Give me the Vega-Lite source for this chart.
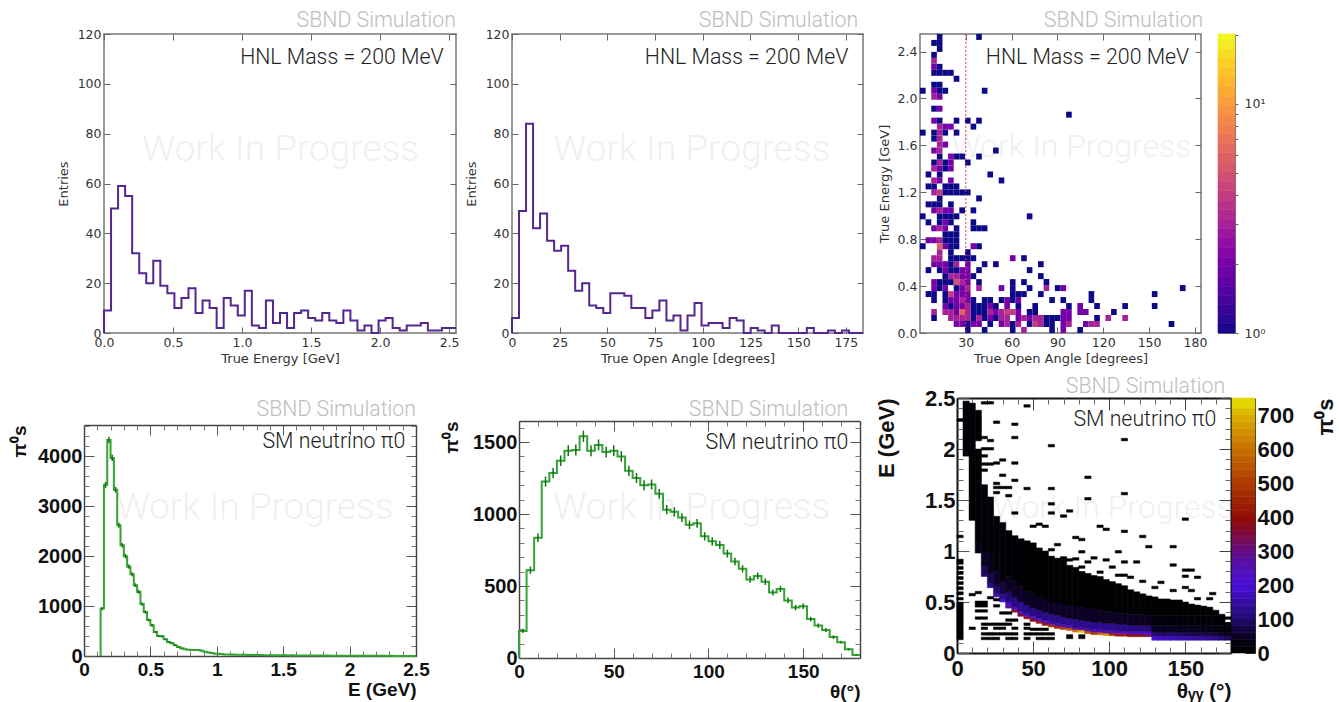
{"$schema":"https://vega.github.io/schema/vega-lite/v6.json","padding":0,"background":"white","spacing":0,"resolve":{"scale":{"color":"independent","stroke":"independent"}},
"config":{"view":{"stroke":null},"axis":{"grid":false,"domain":false,"labelOverlap":false,"labelFlush":false,"tickColor":"#666","tickWidth":1,"labelFont":"DejaVu Sans","labelFontSize":12.5,"labelColor":"#333","titleFont":"DejaVu Sans","titleFontSize":13,"titleFontWeight":"normal","titleColor":"#333"},
"style":{"root":{"labelFont":"Liberation Sans","labelFontWeight":"bold","labelFontSize":19,"labelColor":"#111","titleFont":"Liberation Sans","titleFontWeight":"bold","titleFontSize":19,"titleColor":"#111","tickColor":"#555"}}},
"vconcat":[
{"width":1339,"height":8,"data":{"values":[{}]},"mark":{"type":"point","opacity":0},"encoding":{}},
{"spacing":0,"bounds":"flush","resolve":{"scale":{"color":"independent","stroke":"independent"}},"hconcat":[
{"width":104,"height":340,"data":{"values":[{}]},"mark":{"type":"point","opacity":0},"encoding":{}},
{"width":352,"height":299,"view":{"stroke":"#777","strokeWidth":1.5},"resolve":{"axis":{"x":"independent","y":"independent"}},"layer":[
{"data":{"values":[{"x":0,"y":0},{"x":0,"y":9},{"x":0.051,"y":50},{"x":0.102,"y":59},{"x":0.153,"y":55},{"x":0.204,"y":32},{"x":0.255,"y":24},{"x":0.306,"y":20},{"x":0.357,"y":29},{"x":0.408,"y":19},{"x":0.459,"y":16},{"x":0.51,"y":10},{"x":0.561,"y":14},{"x":0.612,"y":18},{"x":0.663,"y":8},{"x":0.714,"y":13},{"x":0.765,"y":10},{"x":0.816,"y":2},{"x":0.867,"y":14},{"x":0.918,"y":11},{"x":0.969,"y":7},{"x":1.02,"y":17},{"x":1.071,"y":3},{"x":1.122,"y":2},{"x":1.173,"y":13},{"x":1.224,"y":4},{"x":1.275,"y":8},{"x":1.326,"y":2},{"x":1.377,"y":8},{"x":1.428,"y":9},{"x":1.479,"y":6},{"x":1.53,"y":5},{"x":1.581,"y":8},{"x":1.632,"y":5},{"x":1.683,"y":4},{"x":1.734,"y":9},{"x":1.785,"y":5},{"x":1.836,"y":1},{"x":1.887,"y":3},{"x":1.938,"y":0},{"x":1.989,"y":5},{"x":2.04,"y":6},{"x":2.091,"y":2},{"x":2.142,"y":1},{"x":2.193,"y":3},{"x":2.244,"y":3},{"x":2.295,"y":4},{"x":2.346,"y":1},{"x":2.397,"y":1},{"x":2.448,"y":2},{"x":2.499,"y":2},{"x":2.55,"y":2}]},
"mark":{"type":"line","interpolate":"step-after","color":"#54278f","strokeWidth":2},
"encoding":{"x":{"field":"x","type":"quantitative","scale":{"domain":[0,2.55],"nice":false,"zero":false},"axis":{"orient":"bottom","values":[0,0.5,1,1.5,2,2.5],"format":".1f","tickSize":-6,"labelPadding":9,"title":"True Energy [GeV]","titlePadding":4}},"y":{"field":"y","type":"quantitative","scale":{"domain":[0,120],"nice":false,"zero":false},"axis":{"orient":"left","values":[0,20,40,60,80,100,120],"tickSize":-6,"labelPadding":9,"title":"Entries","titlePadding":7}}}},
{"data":{"values":[{"x":2.46,"y":110.3,"t":"HNL Mass = 200 MeV"}]},"mark":{"type":"text","font":"Roboto","fontWeight":300,"fontSize":21.3,"align":"right","baseline":"middle","color":"#222"},
"encoding":{"x":{"field":"x","type":"quantitative","title":null,"axis":{"orient":"top","values":[0,0.5,1,1.5,2,2.5],"labels":false,"tickSize":-6}},"y":{"field":"y","type":"quantitative","title":null,"axis":{"orient":"right","values":[0,20,40,60,80,100,120],"labels":false,"tickSize":-6}},"text":{"field":"t"}}},
{"data":{"values":[{"x":2.55,"y":125.4,"t":"SBND Simulation"}]},"mark":{"type":"text","font":"Roboto","fontWeight":300,"fontSize":21.3,"align":"right","baseline":"middle","color":"#bdbdbd"},
"encoding":{"x":{"field":"x","type":"quantitative","axis":null},"y":{"field":"y","type":"quantitative","axis":null},"text":{"field":"t"}}},
{"data":{"values":[{"x":1.279,"y":73.3,"t":"Work In Progress"}]},"mark":{"type":"text","font":"Roboto","fontWeight":300,"fontSize":37,"align":"center","baseline":"middle","color":"#000","opacity":0.06},
"encoding":{"x":{"field":"x","type":"quantitative","axis":null},"y":{"field":"y","type":"quantitative","axis":null},"text":{"field":"t"}}}
]},
{"width":56,"height":299,"data":{"values":[{}]},"mark":{"type":"point","opacity":0},"encoding":{}},
{"width":351,"height":299,"view":{"stroke":"#777","strokeWidth":1.5},"resolve":{"axis":{"x":"independent","y":"independent"}},"layer":[
{"data":{"values":[{"x":0,"y":0},{"x":0,"y":6},{"x":3.68,"y":49},{"x":7.36,"y":84},{"x":11.04,"y":42},{"x":14.72,"y":48},{"x":18.4,"y":37},{"x":22.08,"y":33},{"x":25.76,"y":35},{"x":29.44,"y":25},{"x":33.12,"y":17},{"x":36.8,"y":20},{"x":40.48,"y":11},{"x":44.16,"y":10},{"x":47.84,"y":8},{"x":51.52,"y":16},{"x":55.2,"y":16},{"x":58.88,"y":15},{"x":62.56,"y":10},{"x":66.24,"y":10},{"x":69.92,"y":6},{"x":73.6,"y":9},{"x":77.28,"y":13},{"x":80.96,"y":5},{"x":84.64,"y":7},{"x":88.32,"y":1},{"x":92,"y":7},{"x":95.68,"y":12},{"x":99.36,"y":3},{"x":103.04,"y":4},{"x":106.72,"y":4},{"x":110.4,"y":2},{"x":114.08,"y":6},{"x":117.76,"y":5},{"x":121.44,"y":0},{"x":125.12,"y":2},{"x":128.8,"y":1},{"x":132.48,"y":0},{"x":136.16,"y":3},{"x":139.84,"y":0},{"x":143.52,"y":0},{"x":147.2,"y":0},{"x":150.88,"y":0},{"x":154.56,"y":2},{"x":158.24,"y":0},{"x":161.92,"y":0},{"x":165.6,"y":1},{"x":169.28,"y":0},{"x":172.96,"y":1},{"x":176.64,"y":0},{"x":180.32,"y":0},{"x":184,"y":0}]},
"mark":{"type":"line","interpolate":"step-after","color":"#54278f","strokeWidth":2},
"encoding":{"x":{"field":"x","type":"quantitative","scale":{"domain":[0,184],"nice":false,"zero":false},"axis":{"orient":"bottom","values":[0,25,50,75,100,125,150,175],"tickSize":-6,"labelPadding":9,"title":"True Open Angle [degrees]","titlePadding":4}},"y":{"field":"y","type":"quantitative","scale":{"domain":[0,120],"nice":false,"zero":false},"axis":{"orient":"left","values":[0,20,40,60,80,100,120],"tickSize":-6,"labelPadding":9,"title":"Entries","titlePadding":7}}}},
{"data":{"values":[{"x":176.3,"y":110.3,"t":"HNL Mass = 200 MeV"}]},"mark":{"type":"text","font":"Roboto","fontWeight":300,"fontSize":21.3,"align":"right","baseline":"middle","color":"#222"},
"encoding":{"x":{"field":"x","type":"quantitative","title":null,"axis":{"orient":"top","values":[0,25,50,75,100,125,150,175],"labels":false,"tickSize":-6}},"y":{"field":"y","type":"quantitative","title":null,"axis":{"orient":"right","values":[0,20,40,60,80,100,120],"labels":false,"tickSize":-6}},"text":{"field":"t"}}},
{"data":{"values":[{"x":181.5,"y":125.4,"t":"SBND Simulation"}]},"mark":{"type":"text","font":"Roboto","fontWeight":300,"fontSize":21.3,"align":"right","baseline":"middle","color":"#bdbdbd"},
"encoding":{"x":{"field":"x","type":"quantitative","axis":null},"y":{"field":"y","type":"quantitative","axis":null},"text":{"field":"t"}}},
{"data":{"values":[{"x":94.2,"y":73.3,"t":"Work In Progress"}]},"mark":{"type":"text","font":"Roboto","fontWeight":300,"fontSize":37,"align":"center","baseline":"middle","color":"#000","opacity":0.06},
"encoding":{"x":{"field":"x","type":"quantitative","axis":null},"y":{"field":"y","type":"quantitative","axis":null},"text":{"field":"t"}}}
]},
{"width":57,"height":299,"data":{"values":[{}]},"mark":{"type":"point","opacity":0},"encoding":{}},
{"width":281,"height":299,"view":{"stroke":"#777","strokeWidth":1.5},"resolve":{"axis":{"x":"independent","y":"independent"}},"layer":[
{"data":{"values":[
{"x":31.28,"y":0.026,"c":1},{"x":42.32,"y":0.026,"c":1},{"x":60.72,"y":0.026,"c":1},{"x":68.08,"y":0.026,"c":3},{"x":86.48,"y":0.026,"c":1},{"x":93.84,"y":0.026,"c":2},{"x":104.88,"y":0.026,"c":1},
{"x":23.92,"y":0.077,"c":2},{"x":27.6,"y":0.077,"c":2},{"x":31.28,"y":0.077,"c":1},{"x":34.96,"y":0.077,"c":2},{"x":38.64,"y":0.077,"c":2},{"x":46,"y":0.077,"c":1},{"x":53.36,"y":0.077,"c":2},{"x":57.04,"y":0.077,"c":3},{"x":60.72,"y":0.077,"c":1},{"x":64.4,"y":0.077,"c":3},{"x":71.76,"y":0.077,"c":1},{"x":75.44,"y":0.077,"c":4},{"x":79.12,"y":0.077,"c":3},{"x":82.8,"y":0.077,"c":1},{"x":86.48,"y":0.077,"c":1},{"x":93.84,"y":0.077,"c":2},{"x":97.52,"y":0.077,"c":3},{"x":108.56,"y":0.077,"c":2},{"x":112.24,"y":0.077,"c":3},{"x":115.92,"y":0.077,"c":3},{"x":164.68,"y":0.077,"c":1},
{"x":9.2,"y":0.128,"c":1},{"x":20.24,"y":0.128,"c":3},{"x":23.92,"y":0.128,"c":3},{"x":27.6,"y":0.128,"c":3},{"x":31.28,"y":0.128,"c":3},{"x":34.96,"y":0.128,"c":1},{"x":38.64,"y":0.128,"c":3},{"x":42.32,"y":0.128,"c":1},{"x":46,"y":0.128,"c":2},{"x":49.68,"y":0.128,"c":1},{"x":53.36,"y":0.128,"c":3},{"x":57.04,"y":0.128,"c":3},{"x":64.4,"y":0.128,"c":2},{"x":68.08,"y":0.128,"c":3},{"x":71.76,"y":0.128,"c":2},{"x":75.44,"y":0.128,"c":3},{"x":79.12,"y":0.128,"c":3},{"x":82.8,"y":0.128,"c":1},{"x":86.48,"y":0.128,"c":1},{"x":90.16,"y":0.128,"c":1},{"x":93.84,"y":0.128,"c":2},{"x":97.52,"y":0.128,"c":2},{"x":115.92,"y":0.128,"c":1},{"x":123.28,"y":0.128,"c":3},{"x":134.32,"y":0.128,"c":3},
{"x":9.2,"y":0.179,"c":3},{"x":16.56,"y":0.179,"c":3},{"x":20.24,"y":0.179,"c":3},{"x":23.92,"y":0.179,"c":2},{"x":27.6,"y":0.179,"c":6},{"x":31.28,"y":0.179,"c":3},{"x":34.96,"y":0.179,"c":1},{"x":38.64,"y":0.179,"c":1},{"x":42.32,"y":0.179,"c":1},{"x":46,"y":0.179,"c":3},{"x":49.68,"y":0.179,"c":2},{"x":53.36,"y":0.179,"c":3},{"x":57.04,"y":0.179,"c":4},{"x":60.72,"y":0.179,"c":4},{"x":64.4,"y":0.179,"c":2},{"x":71.76,"y":0.179,"c":1},{"x":75.44,"y":0.179,"c":1},{"x":93.84,"y":0.179,"c":2},{"x":97.52,"y":0.179,"c":2},{"x":104.88,"y":0.179,"c":2},{"x":108.56,"y":0.179,"c":2},{"x":126.96,"y":0.179,"c":1},
{"x":16.56,"y":0.23,"c":2},{"x":20.24,"y":0.23,"c":1},{"x":23.92,"y":0.23,"c":2},{"x":27.6,"y":0.23,"c":2},{"x":31.28,"y":0.23,"c":3},{"x":34.96,"y":0.23,"c":1},{"x":38.64,"y":0.23,"c":1},{"x":42.32,"y":0.23,"c":1},{"x":46,"y":0.23,"c":2},{"x":49.68,"y":0.23,"c":1},{"x":57.04,"y":0.23,"c":2},{"x":64.4,"y":0.23,"c":1},{"x":75.44,"y":0.23,"c":1},{"x":97.52,"y":0.23,"c":1},{"x":104.88,"y":0.23,"c":2},{"x":115.92,"y":0.23,"c":1},{"x":134.32,"y":0.23,"c":1},{"x":153.64,"y":0.23,"c":1},
{"x":9.2,"y":0.281,"c":1},{"x":16.56,"y":0.281,"c":1},{"x":20.24,"y":0.281,"c":2},{"x":23.92,"y":0.281,"c":2},{"x":27.6,"y":0.281,"c":3},{"x":31.28,"y":0.281,"c":2},{"x":34.96,"y":0.281,"c":1},{"x":42.32,"y":0.281,"c":1},{"x":46,"y":0.281,"c":1},{"x":53.36,"y":0.281,"c":1},{"x":57.04,"y":0.281,"c":2},{"x":60.72,"y":0.281,"c":1},{"x":64.4,"y":0.281,"c":2},{"x":86.48,"y":0.281,"c":1},{"x":93.84,"y":0.281,"c":1},{"x":112.24,"y":0.281,"c":1},
{"x":5.52,"y":0.332,"c":1},{"x":9.2,"y":0.332,"c":1},{"x":16.56,"y":0.332,"c":1},{"x":20.24,"y":0.332,"c":4},{"x":23.92,"y":0.332,"c":2},{"x":27.6,"y":0.332,"c":2},{"x":31.28,"y":0.332,"c":2},{"x":60.72,"y":0.332,"c":1},{"x":64.4,"y":0.332,"c":1},{"x":68.08,"y":0.332,"c":1},{"x":79.12,"y":0.332,"c":1},{"x":112.24,"y":0.332,"c":1},{"x":153.64,"y":0.332,"c":1},
{"x":9.2,"y":0.383,"c":2},{"x":12.88,"y":0.383,"c":1},{"x":16.56,"y":0.383,"c":2},{"x":23.92,"y":0.383,"c":1},{"x":27.6,"y":0.383,"c":2},{"x":31.28,"y":0.383,"c":3},{"x":38.64,"y":0.383,"c":3},{"x":53.36,"y":0.383,"c":2},{"x":60.72,"y":0.383,"c":1},{"x":71.76,"y":0.383,"c":1},{"x":82.8,"y":0.383,"c":3},{"x":90.16,"y":0.383,"c":1},{"x":93.84,"y":0.383,"c":2},{"x":172.04,"y":0.383,"c":1},
{"x":9.2,"y":0.434,"c":2},{"x":12.88,"y":0.434,"c":1},{"x":16.56,"y":0.434,"c":1},{"x":20.24,"y":0.434,"c":1},{"x":23.92,"y":0.434,"c":5},{"x":27.6,"y":0.434,"c":3},{"x":31.28,"y":0.434,"c":2},{"x":38.64,"y":0.434,"c":1},{"x":60.72,"y":0.434,"c":1},{"x":68.08,"y":0.434,"c":1},{"x":82.8,"y":0.434,"c":1},
{"x":16.56,"y":0.485,"c":1},{"x":20.24,"y":0.485,"c":3},{"x":23.92,"y":0.485,"c":3},{"x":27.6,"y":0.485,"c":2},{"x":31.28,"y":0.485,"c":2},{"x":34.96,"y":0.485,"c":1},{"x":79.12,"y":0.485,"c":1},
{"x":5.52,"y":0.536,"c":1},{"x":12.88,"y":0.536,"c":1},{"x":16.56,"y":0.536,"c":2},{"x":20.24,"y":0.536,"c":1},{"x":23.92,"y":0.536,"c":1},{"x":27.6,"y":0.536,"c":2},{"x":31.28,"y":0.536,"c":2},{"x":38.64,"y":0.536,"c":1},{"x":71.76,"y":0.536,"c":1},
{"x":9.2,"y":0.587,"c":2},{"x":12.88,"y":0.587,"c":2},{"x":16.56,"y":0.587,"c":2},{"x":20.24,"y":0.587,"c":1},{"x":23.92,"y":0.587,"c":3},{"x":31.28,"y":0.587,"c":2},{"x":42.32,"y":0.587,"c":1},{"x":49.68,"y":0.587,"c":1},{"x":79.12,"y":0.587,"c":1},
{"x":9.2,"y":0.638,"c":3},{"x":12.88,"y":0.638,"c":3},{"x":20.24,"y":0.638,"c":1},{"x":23.92,"y":0.638,"c":1},{"x":27.6,"y":0.638,"c":1},{"x":31.28,"y":0.638,"c":1},{"x":34.96,"y":0.638,"c":1},{"x":60.72,"y":0.638,"c":2},{"x":68.08,"y":0.638,"c":1},
{"x":12.88,"y":0.689,"c":3},{"x":20.24,"y":0.689,"c":1},{"x":31.28,"y":0.689,"c":1},
{"x":1.84,"y":0.74,"c":1},{"x":12.88,"y":0.74,"c":6},{"x":16.56,"y":0.74,"c":2},{"x":20.24,"y":0.74,"c":1},{"x":23.92,"y":0.74,"c":1},{"x":34.96,"y":0.74,"c":2},{"x":38.64,"y":0.74,"c":1},
{"x":5.52,"y":0.791,"c":2},{"x":9.2,"y":0.791,"c":2},{"x":12.88,"y":0.791,"c":3},{"x":16.56,"y":0.791,"c":1},{"x":20.24,"y":0.791,"c":1},{"x":23.92,"y":0.791,"c":1},
{"x":16.56,"y":0.842,"c":1},{"x":20.24,"y":0.842,"c":1},{"x":23.92,"y":0.842,"c":1},
{"x":9.2,"y":0.893,"c":2},{"x":12.88,"y":0.893,"c":3},{"x":16.56,"y":0.893,"c":2},{"x":23.92,"y":0.893,"c":1},{"x":34.96,"y":0.893,"c":1},{"x":38.64,"y":0.893,"c":1},{"x":42.32,"y":0.893,"c":1},
{"x":5.52,"y":0.944,"c":1},{"x":12.88,"y":0.944,"c":1},{"x":16.56,"y":0.944,"c":2},{"x":20.24,"y":0.944,"c":1},{"x":34.96,"y":0.944,"c":1},
{"x":1.84,"y":0.995,"c":1},{"x":12.88,"y":0.995,"c":1},{"x":16.56,"y":0.995,"c":1},{"x":20.24,"y":0.995,"c":1},{"x":23.92,"y":0.995,"c":1},{"x":71.76,"y":0.995,"c":1},
{"x":9.2,"y":1.046,"c":2},{"x":12.88,"y":1.046,"c":3},{"x":16.56,"y":1.046,"c":2},{"x":20.24,"y":1.046,"c":2},{"x":27.6,"y":1.046,"c":1},{"x":34.96,"y":1.046,"c":1},
{"x":5.52,"y":1.097,"c":1},{"x":9.2,"y":1.097,"c":1},{"x":12.88,"y":1.097,"c":1},{"x":20.24,"y":1.097,"c":1},
{"x":12.88,"y":1.148,"c":1},{"x":38.64,"y":1.148,"c":1},
{"x":9.2,"y":1.199,"c":3},{"x":12.88,"y":1.199,"c":4},{"x":16.56,"y":1.199,"c":1},{"x":20.24,"y":1.199,"c":1},{"x":23.92,"y":1.199,"c":1},{"x":27.6,"y":1.199,"c":1},{"x":31.28,"y":1.199,"c":1},
{"x":5.52,"y":1.25,"c":1},{"x":9.2,"y":1.25,"c":1},{"x":16.56,"y":1.25,"c":1},{"x":20.24,"y":1.25,"c":1},{"x":23.92,"y":1.25,"c":1},
{"x":9.2,"y":1.301,"c":3},{"x":12.88,"y":1.301,"c":2},{"x":20.24,"y":1.301,"c":2},{"x":53.36,"y":1.301,"c":1},
{"x":5.52,"y":1.352,"c":1},{"x":12.88,"y":1.352,"c":1},{"x":46,"y":1.352,"c":1},
{"x":9.2,"y":1.403,"c":3},{"x":12.88,"y":1.403,"c":2},{"x":16.56,"y":1.403,"c":1},{"x":20.24,"y":1.403,"c":2},
{"x":9.2,"y":1.454,"c":1},{"x":12.88,"y":1.454,"c":3},{"x":16.56,"y":1.454,"c":1},{"x":20.24,"y":1.454,"c":2},{"x":31.28,"y":1.454,"c":1},
{"x":12.88,"y":1.505,"c":1},{"x":20.24,"y":1.505,"c":2},{"x":23.92,"y":1.505,"c":1},{"x":27.6,"y":1.505,"c":1},{"x":38.64,"y":1.505,"c":1},
{"x":9.2,"y":1.556,"c":2},{"x":12.88,"y":1.556,"c":3},{"x":49.68,"y":1.556,"c":1},
{"x":12.88,"y":1.607,"c":3},{"x":16.56,"y":1.607,"c":2},
{"x":9.2,"y":1.658,"c":1},{"x":12.88,"y":1.658,"c":3},
{"x":1.84,"y":1.709,"c":1},{"x":9.2,"y":1.709,"c":1},{"x":12.88,"y":1.709,"c":3},{"x":16.56,"y":1.709,"c":1},{"x":23.92,"y":1.709,"c":1},
{"x":12.88,"y":1.76,"c":3},{"x":16.56,"y":1.76,"c":2},{"x":20.24,"y":1.76,"c":2},{"x":34.96,"y":1.76,"c":1},
{"x":9.2,"y":1.811,"c":2},{"x":12.88,"y":1.811,"c":1},{"x":23.92,"y":1.811,"c":1},{"x":31.28,"y":1.811,"c":1},{"x":38.64,"y":1.811,"c":1},
{"x":97.52,"y":1.862,"c":1},
{"x":9.2,"y":1.913,"c":1},{"x":12.88,"y":1.913,"c":2},
{"x":9.2,"y":2.015,"c":3},{"x":12.88,"y":2.015,"c":2},
{"x":1.84,"y":2.066,"c":1},{"x":9.2,"y":2.066,"c":2},{"x":12.88,"y":2.066,"c":1},{"x":16.56,"y":2.066,"c":1},{"x":42.32,"y":2.066,"c":1},
{"x":9.2,"y":2.117,"c":1},{"x":12.88,"y":2.117,"c":1},
{"x":23.92,"y":2.168,"c":1},
{"x":9.2,"y":2.219,"c":1},{"x":12.88,"y":2.219,"c":1},{"x":16.56,"y":2.219,"c":1},{"x":20.24,"y":2.219,"c":1},
{"x":9.2,"y":2.27,"c":2},{"x":12.88,"y":2.27,"c":1},
{"x":9.2,"y":2.321,"c":3},
{"x":9.2,"y":2.372,"c":1},
{"x":12.88,"y":2.423,"c":1},
{"x":12.88,"y":2.474,"c":1},{"x":9.2,"y":2.474,"c":1},
{"x":12.88,"y":2.525,"c":1},{"x":38.64,"y":2.525,"c":1}]},
"mark":{"type":"rect","width":5.62,"height":5.99},
"encoding":{"x":{"field":"x","type":"quantitative","scale":{"domain":[0,184],"nice":false,"zero":false},"axis":{"orient":"bottom","values":[30,60,90,120,150,180],"tickSize":-6,"labelPadding":9,"title":"True Open Angle [degrees]","titlePadding":4}},"y":{"field":"y","type":"quantitative","scale":{"domain":[0,2.55],"nice":false,"zero":false},"axis":{"orient":"left","values":[0,0.4,0.8,1.2,1.6,2,2.4],"format":".1f","tickSize":-6,"labelPadding":9,"title":"True Energy [GeV]","titlePadding":6}},"color":{"field":"c","type":"quantitative","scale":{"type":"log","domain":[1,20.2],"scheme":"plasma"},"legend":null}}},
{"data":{"values":[{"x":30}]},"mark":{"type":"rule","color":"#e8443a","strokeDash":[2,2],"strokeWidth":1},"encoding":{"x":{"field":"x","type":"quantitative","axis":null}}},
{"data":{"values":[{"x":176.3,"y":2.347,"t":"HNL Mass = 200 MeV"}]},"mark":{"type":"text","font":"Roboto","fontWeight":300,"fontSize":21.3,"align":"right","baseline":"middle","color":"#222"},
"encoding":{"x":{"field":"x","type":"quantitative","title":null,"axis":{"orient":"top","values":[30,60,90,120,150,180],"labels":false,"tickSize":-6}},"y":{"field":"y","type":"quantitative","title":null,"axis":{"orient":"right","values":[0,0.4,0.8,1.2,1.6,2,2.4],"labels":false,"tickSize":-6}},"text":{"field":"t"}}},
{"data":{"values":[{"x":185.5,"y":2.665,"t":"SBND Simulation"}]},"mark":{"type":"text","font":"Roboto","fontWeight":300,"fontSize":21.3,"align":"right","baseline":"middle","color":"#bdbdbd"},
"encoding":{"x":{"field":"x","type":"quantitative","axis":null},"y":{"field":"y","type":"quantitative","axis":null},"text":{"field":"t"}}},
{"data":{"values":[{"x":99.3,"y":1.586,"t":"Work In Progress"}]},"mark":{"type":"text","font":"Roboto","fontWeight":300,"fontSize":32,"align":"center","baseline":"middle","color":"#000","opacity":0.06},
"encoding":{"x":{"field":"x","type":"quantitative","axis":null},"y":{"field":"y","type":"quantitative","axis":null},"text":{"field":"t"}}}
]},
{"width":17,"height":299,"data":{"values":[{}]},"mark":{"type":"point","opacity":0},"encoding":{}},
{"width":17,"height":299,"view":{"stroke":"#777","strokeWidth":1},"data":{"values":[{"y":1,"y2":1.1,"c":1.05},{"y":1.1,"y2":1.2,"c":1.15},{"y":1.2,"y2":1.33,"c":1.26},{"y":1.33,"y2":1.46,"c":1.39},{"y":1.46,"y2":1.6,"c":1.53},{"y":1.6,"y2":1.77,"c":1.68},{"y":1.77,"y2":1.95,"c":1.86},{"y":1.95,"y2":2.14,"c":2.04},{"y":2.14,"y2":2.36,"c":2.25},{"y":2.36,"y2":2.6,"c":2.48},{"y":2.6,"y2":2.85,"c":2.72},{"y":2.85,"y2":3.14,"c":3},{"y":3.14,"y2":3.45,"c":3.29},{"y":3.45,"y2":3.8,"c":3.62},{"y":3.8,"y2":4.18,"c":3.99},{"y":4.18,"y2":4.6,"c":4.39},{"y":4.6,"y2":5.05,"c":4.82},{"y":5.05,"y2":5.56,"c":5.3},{"y":5.56,"y2":6.12,"c":5.83},{"y":6.12,"y2":6.73,"c":6.42},{"y":6.73,"y2":7.4,"c":7.06},{"y":7.4,"y2":8.14,"c":7.76},{"y":8.14,"y2":8.95,"c":8.54},{"y":8.95,"y2":9.85,"c":9.39},{"y":9.85,"y2":10.8,"c":10.3},{"y":10.8,"y2":11.9,"c":11.3},{"y":11.9,"y2":13.1,"c":12.5},{"y":13.1,"y2":14.4,"c":13.7},{"y":14.4,"y2":15.9,"c":15.1},{"y":15.9,"y2":17.4,"c":16.6},{"y":17.4,"y2":19.2,"c":18.3},{"y":19.2,"y2":20.2,"c":19.7}]},
"mark":{"type":"rect","strokeWidth":0.6},"encoding":{"y":{"field":"y","type":"quantitative","scale":{"type":"log","domain":[1,20.2],"nice":false},"axis":{"orient":"right","values":[1,2,3,4,5,6,7,8,9,10,20],"tickSize":3,"labelExpr":"datum.value==1?'10⁰':datum.value==10?'10¹':''","labelPadding":6,"title":null}},"y2":{"field":"y2"},"color":{"field":"c","type":"quantitative","scale":{"type":"log","domain":[1,20.2],"scheme":"plasma"},"legend":null},"stroke":{"field":"c","type":"quantitative","scale":{"type":"log","domain":[1,20.2],"scheme":"plasma"},"legend":null}}},
{"width":104,"height":299,"data":{"values":[{}]},"mark":{"type":"point","opacity":0},"encoding":{}}
]},
{"spacing":0,"bounds":"flush","resolve":{"scale":{"color":"independent","stroke":"independent"}},"hconcat":[
{"width":84,"height":328,"data":{"values":[{}]},"mark":{"type":"point","opacity":0},"encoding":{}},
{"width":332,"height":328,"resolve":{"axis":{"x":"independent","y":"independent"}},"layer":[
{"data":{"values":[{"x":0.125,"y":0},{"x":0.125,"y":950},{"x":0.15,"y":3430},{"x":0.175,"y":4330},{"x":0.2,"y":3970},{"x":0.225,"y":3330},{"x":0.25,"y":2620},{"x":0.275,"y":2220},{"x":0.3,"y":2000},{"x":0.325,"y":1790},{"x":0.35,"y":1640},{"x":0.375,"y":1420},{"x":0.4,"y":1285},{"x":0.425,"y":1040},{"x":0.45,"y":880},{"x":0.475,"y":720},{"x":0.5,"y":615},{"x":0.525,"y":480},{"x":0.55,"y":400},{"x":0.575,"y":395},{"x":0.6,"y":335},{"x":0.625,"y":280},{"x":0.65,"y":255},{"x":0.675,"y":215},{"x":0.7,"y":180},{"x":0.725,"y":155},{"x":0.75,"y":135},{"x":0.775,"y":125},{"x":0.8,"y":120},{"x":0.825,"y":118},{"x":0.85,"y":120},{"x":0.875,"y":105},{"x":0.9,"y":85},{"x":0.925,"y":70},{"x":0.95,"y":60},{"x":0.975,"y":45},{"x":1,"y":45},{"x":1.025,"y":38},{"x":1.05,"y":32},{"x":1.075,"y":30},{"x":1.1,"y":28},{"x":1.125,"y":27},{"x":1.15,"y":24},{"x":1.175,"y":26},{"x":1.2,"y":23},{"x":1.225,"y":20},{"x":1.25,"y":22},{"x":1.275,"y":18},{"x":1.3,"y":20},{"x":1.325,"y":19},{"x":1.35,"y":16},{"x":1.375,"y":17},{"x":1.4,"y":15},{"x":1.425,"y":16},{"x":1.45,"y":14},{"x":1.475,"y":13},{"x":1.5,"y":14},{"x":1.525,"y":12},{"x":1.55,"y":13},{"x":1.575,"y":11},{"x":1.6,"y":12},{"x":1.625,"y":10},{"x":1.65,"y":11},{"x":1.675,"y":10},{"x":1.7,"y":9},{"x":1.725,"y":10},{"x":1.75,"y":8},{"x":1.775,"y":9},{"x":1.8,"y":7},{"x":1.825,"y":8},{"x":1.85,"y":7},{"x":1.875,"y":6},{"x":1.9,"y":7},{"x":1.925,"y":6},{"x":1.95,"y":5},{"x":1.975,"y":6},{"x":2,"y":5},{"x":2.025,"y":5},{"x":2.05,"y":4},{"x":2.075,"y":5},{"x":2.1,"y":4},{"x":2.125,"y":4},{"x":2.15,"y":3},{"x":2.175,"y":4},{"x":2.2,"y":3},{"x":2.225,"y":3},{"x":2.25,"y":3},{"x":2.275,"y":2},{"x":2.3,"y":3},{"x":2.325,"y":2},{"x":2.35,"y":2},{"x":2.375,"y":2},{"x":2.4,"y":1},{"x":2.425,"y":2},{"x":2.45,"y":1},{"x":2.475,"y":1},{"x":2.5,"y":1}]},
"mark":{"type":"line","interpolate":"step-after","color":"#33a333","strokeWidth":2},
"encoding":{"x":{"field":"x","type":"quantitative","scale":{"domain":[0,2.5],"nice":false,"zero":false},"axis":{"style":"root","orient":"bottom","offset":-46,"domain":true,"domainColor":"#444","domainWidth":1.5,"values":[0,0.5,1,1.5,2,2.5],"format":"~g","tickSize":-10,"labelPadding":14,"title":"E (GeV)","titleAnchor":"end","titlePadding":1}},"y":{"field":"y","type":"quantitative","scale":{"domain":[0,4630],"nice":false,"zero":false,"range":[282,51]},"axis":{"style":"root","orient":"left","domain":true,"domainColor":"#444","domainWidth":1.5,"values":[0,1000,2000,3000,4000],"format":"d","labelFontSize":20,"tickSize":-10,"labelPadding":12,"title":"π⁰s","titleAnchor":"end","titleX":-55}}}},
{"data":{"values":[{"x":0.1375,"lo":919,"hi":981},{"x":0.1625,"lo":3371,"hi":3489},{"x":0.1875,"lo":4264,"hi":4396},{"x":0.2125,"lo":3907,"hi":4033},{"x":0.2375,"lo":3272,"hi":3388},{"x":0.2625,"lo":2569,"hi":2671},{"x":0.2875,"lo":2173,"hi":2267},{"x":0.3125,"lo":1955,"hi":2045},{"x":0.3375,"lo":1748,"hi":1832},{"x":0.3625,"lo":1600,"hi":1680},{"x":0.3875,"lo":1382,"hi":1458},{"x":0.4125,"lo":1249,"hi":1321},{"x":0.4375,"lo":1008,"hi":1072},{"x":0.4625,"lo":850,"hi":910},{"x":0.4875,"lo":693,"hi":747},{"x":0.5125,"lo":590,"hi":640},{"x":0.5375,"lo":458,"hi":502},{"x":0.5625,"lo":380,"hi":420},{"x":0.5875,"lo":375,"hi":415},{"x":0.6125,"lo":317,"hi":353},{"x":0.6375,"lo":263,"hi":297},{"x":0.6625,"lo":239,"hi":271},{"x":0.6875,"lo":200,"hi":230},{"x":0.7125,"lo":167,"hi":193},{"x":0.7375,"lo":143,"hi":167}]},
"mark":{"type":"rule","color":"#156f15","strokeWidth":1.5},"encoding":{"x":{"field":"x","type":"quantitative","axis":null},"y":{"field":"lo","type":"quantitative","axis":null},"y2":{"field":"hi"}}},
{"data":{"values":[{"x":2.419,"y":4285,"t":"SM neutrino π0"}]},"mark":{"type":"text","font":"Roboto","fontWeight":300,"fontSize":21.3,"align":"right","baseline":"middle","color":"#222"},
"encoding":{"x":{"field":"x","type":"quantitative","title":null,"axis":{"orient":"top","offset":-51,"domain":true,"domainColor":"#444","domainWidth":1.5,"values":[0,0.5,1,1.5,2,2.5],"labels":false,"tickSize":-10,"tickColor":"#555"}},"y":{"field":"y","type":"quantitative","title":null,"axis":{"orient":"right","domain":true,"domainColor":"#444","domainWidth":1.5,"values":[0,1000,2000,3000,4000],"labels":false,"tickSize":-10,"tickColor":"#555"}},"text":{"field":"t"}}},
{"data":{"values":[{"x":2.5,"y":4934,"t":"SBND Simulation"}]},"mark":{"type":"text","font":"Roboto","fontWeight":300,"fontSize":21.3,"align":"right","baseline":"middle","color":"#bdbdbd"},
"encoding":{"x":{"field":"x","type":"quantitative","title":null,"axis":{"orient":"bottom","offset":-46,"values":[0.1,0.2,0.3,0.4,0.6,0.7,0.8,0.9,1.1,1.2,1.3,1.4,1.6,1.7,1.8,1.9,2.1,2.2,2.3,2.4],"labels":false,"tickSize":-5,"tickColor":"#777"}},"y":{"field":"y","type":"quantitative","title":null,"axis":{"orient":"left","values":[200,400,600,800,1200,1400,1600,1800,2200,2400,2600,2800,3200,3400,3600,3800,4200,4400,4600],"labels":false,"tickSize":-5,"tickColor":"#777"}},"text":{"field":"t"}}},
{"data":{"values":[{"x":1.288,"y":2966,"t":"Work In Progress"}]},"mark":{"type":"text","font":"Roboto","fontWeight":300,"fontSize":37,"align":"center","baseline":"middle","color":"#000","opacity":0.06},
"encoding":{"x":{"field":"x","type":"quantitative","title":null,"axis":{"orient":"top","offset":-51,"values":[0.1,0.2,0.3,0.4,0.6,0.7,0.8,0.9,1.1,1.2,1.3,1.4,1.6,1.7,1.8,1.9,2.1,2.2,2.3,2.4],"labels":false,"tickSize":-5,"tickColor":"#777"}},"y":{"field":"y","type":"quantitative","title":null,"axis":{"orient":"right","values":[200,400,600,800,1200,1400,1600,1800,2200,2400,2600,2800,3200,3400,3600,3800,4200,4400,4600],"labels":false,"tickSize":-5,"tickColor":"#777"}},"text":{"field":"t"}}}
]},
{"width":103,"height":328,"data":{"values":[{}]},"mark":{"type":"point","opacity":0},"encoding":{}},
{"width":341,"height":328,"resolve":{"axis":{"x":"independent","y":"independent"}},"layer":[
{"data":{"values":[{"x":0,"y":0},{"x":0,"y":187},{"x":4,"y":610},{"x":8,"y":835},{"x":12,"y":1225},{"x":16,"y":1285},{"x":20,"y":1370},{"x":24,"y":1440},{"x":28,"y":1445},{"x":32,"y":1540},{"x":36,"y":1440},{"x":40,"y":1480},{"x":44,"y":1430},{"x":48,"y":1440},{"x":52,"y":1400},{"x":56,"y":1300},{"x":60,"y":1250},{"x":64,"y":1200},{"x":68,"y":1205},{"x":72,"y":1140},{"x":76,"y":1030},{"x":80,"y":1015},{"x":84,"y":975},{"x":88,"y":925},{"x":92,"y":935},{"x":96,"y":845},{"x":100,"y":810},{"x":104,"y":785},{"x":108,"y":725},{"x":112,"y":670},{"x":116,"y":620},{"x":120,"y":545},{"x":124,"y":570},{"x":128,"y":530},{"x":132,"y":455},{"x":136,"y":480},{"x":140,"y":400},{"x":144,"y":350},{"x":148,"y":360},{"x":152,"y":270},{"x":156,"y":225},{"x":160,"y":195},{"x":164,"y":145},{"x":168,"y":110},{"x":172,"y":60},{"x":176,"y":20},{"x":180,"y":20}]},
"mark":{"type":"line","interpolate":"step-after","color":"#33a333","strokeWidth":2},
"encoding":{"x":{"field":"x","type":"quantitative","scale":{"domain":[0,180],"nice":false,"zero":false},"axis":{"style":"root","orient":"bottom","offset":-44,"domain":true,"domainColor":"#444","domainWidth":1.5,"values":[0,50,100,150],"tickSize":-10,"labelPadding":14,"title":"θ(°)","titleAnchor":"end","titlePadding":1}},"y":{"field":"y","type":"quantitative","scale":{"domain":[0,1646],"nice":false,"zero":false,"range":[284,47]},"axis":{"style":"root","orient":"left","domain":true,"domainColor":"#444","domainWidth":1.5,"values":[0,500,1000,1500],"format":"d","labelFontSize":20,"tickSize":-10,"labelPadding":12,"title":"π⁰s","titleAnchor":"end","titleX":-58}}}},
{"data":{"values":[{"x":2,"lo":173,"hi":201},{"x":6,"lo":585,"hi":635},{"x":10,"lo":806,"hi":864},{"x":14,"lo":1190,"hi":1260},{"x":18,"lo":1249,"hi":1321},{"x":22,"lo":1333,"hi":1407},{"x":26,"lo":1402,"hi":1478},{"x":30,"lo":1407,"hi":1483},{"x":34,"lo":1501,"hi":1579},{"x":38,"lo":1402,"hi":1478},{"x":42,"lo":1442,"hi":1518},{"x":46,"lo":1392,"hi":1468},{"x":50,"lo":1402,"hi":1478},{"x":54,"lo":1363,"hi":1437},{"x":58,"lo":1264,"hi":1336},{"x":62,"lo":1215,"hi":1285},{"x":66,"lo":1165,"hi":1235},{"x":70,"lo":1170,"hi":1240},{"x":74,"lo":1106,"hi":1174},{"x":78,"lo":998,"hi":1062},{"x":82,"lo":983,"hi":1047},{"x":86,"lo":944,"hi":1006},{"x":90,"lo":895,"hi":955},{"x":94,"lo":904,"hi":966},{"x":98,"lo":816,"hi":874},{"x":102,"lo":782,"hi":838},{"x":106,"lo":757,"hi":813},{"x":110,"lo":698,"hi":752},{"x":114,"lo":644,"hi":696},{"x":118,"lo":595,"hi":645},{"x":122,"lo":522,"hi":568},{"x":126,"lo":546,"hi":594},{"x":130,"lo":507,"hi":553},{"x":134,"lo":434,"hi":476},{"x":138,"lo":458,"hi":502},{"x":142,"lo":380,"hi":420},{"x":146,"lo":331,"hi":369},{"x":150,"lo":341,"hi":379},{"x":154,"lo":254,"hi":286},{"x":158,"lo":210,"hi":240},{"x":162,"lo":181,"hi":209},{"x":166,"lo":133,"hi":157},{"x":170,"lo":100,"hi":120},{"x":174,"lo":52,"hi":68},{"x":178,"lo":16,"hi":24}]},
"mark":{"type":"rule","color":"#156f15","strokeWidth":1.5},"encoding":{"x":{"field":"x","type":"quantitative","axis":null},"y":{"field":"lo","type":"quantitative","axis":null},"y2":{"field":"hi"}}},
{"data":{"values":[{"x":173.8,"y":1496,"t":"SM neutrino π0"}]},"mark":{"type":"text","font":"Roboto","fontWeight":300,"fontSize":21.3,"align":"right","baseline":"middle","color":"#222"},
"encoding":{"x":{"field":"x","type":"quantitative","title":null,"axis":{"orient":"top","offset":-47,"domain":true,"domainColor":"#444","domainWidth":1.5,"values":[0,50,100,150],"labels":false,"tickSize":-10,"tickColor":"#555"}},"y":{"field":"y","type":"quantitative","title":null,"axis":{"orient":"right","domain":true,"domainColor":"#444","domainWidth":1.5,"values":[0,500,1000,1500],"labels":false,"tickSize":-10,"tickColor":"#555"}},"text":{"field":"t"}}},
{"data":{"values":[{"x":173.8,"y":1720,"t":"SBND Simulation"}]},"mark":{"type":"text","font":"Roboto","fontWeight":300,"fontSize":21.3,"align":"right","baseline":"middle","color":"#bdbdbd"},
"encoding":{"x":{"field":"x","type":"quantitative","title":null,"axis":{"orient":"bottom","offset":-44,"values":[10,20,30,40,60,70,80,90,110,120,130,140,160,170],"labels":false,"tickSize":-5,"tickColor":"#777"}},"y":{"field":"y","type":"quantitative","title":null,"axis":{"orient":"left","values":[100,200,300,400,600,700,800,900,1100,1200,1300,1400,1600],"labels":false,"tickSize":-5,"tickColor":"#777"}},"text":{"field":"t"}}},
{"data":{"values":[{"x":91.2,"y":1040,"t":"Work In Progress"}]},"mark":{"type":"text","font":"Roboto","fontWeight":300,"fontSize":37,"align":"center","baseline":"middle","color":"#000","opacity":0.06},
"encoding":{"x":{"field":"x","type":"quantitative","title":null,"axis":{"orient":"top","offset":-47,"values":[10,20,30,40,60,70,80,90,110,120,130,140,160,170],"labels":false,"tickSize":-5,"tickColor":"#777"}},"y":{"field":"y","type":"quantitative","title":null,"axis":{"orient":"right","values":[100,200,300,400,600,700,800,900,1100,1200,1300,1400,1600],"labels":false,"tickSize":-5,"tickColor":"#777"}},"text":{"field":"t"}}}
]},
{"width":97,"height":328,"data":{"values":[{}]},"mark":{"type":"point","opacity":0},"encoding":{}},
{"width":274,"height":328,"resolve":{"axis":{"x":"independent","y":"independent"}},"layer":[
{"data":{"values":[
{"x":2,"y":0.13,"y2":0.5,"c":6},{"x":2,"y":0.52,"y2":0.545,"c":6},{"x":2,"y":0.57,"y2":0.6,"c":6},{"x":2,"y":0.62,"y2":0.65,"c":6},{"x":2,"y":0.67,"y2":0.7,"c":6},{"x":2,"y":0.72,"y2":0.75,"c":6},{"x":2,"y":0.77,"y2":0.8,"c":6},{"x":2,"y":0.82,"y2":0.85,"c":6},{"x":2,"y":0.87,"y2":0.92,"c":6},{"x":2,"y":1.13,"y2":1.155,"c":6},{"x":2,"y":2.27,"y2":2.295,"c":6},
{"x":6,"y":1.93,"y2":2.47,"c":8},{"x":10,"y":1.3,"y2":2.45,"c":15},
{"x":14,"y":0.98,"y2":1.08,"c":40},{"x":14,"y":1.08,"y2":2,"c":15},{"x":14,"y":2.08,"y2":2.38,"c":6},
{"x":18,"y":0.75,"y2":0.85,"c":90},{"x":18,"y":0.85,"y2":1,"c":50},{"x":18,"y":1,"y2":1.65,"c":15},
{"x":22,"y":0.64,"y2":0.68,"c":130},{"x":22,"y":0.68,"y2":0.78,"c":80},{"x":22,"y":0.78,"y2":1,"c":40},{"x":22,"y":1,"y2":1.53,"c":12},
{"x":26,"y":0.55,"y2":0.58,"c":170},{"x":26,"y":0.58,"y2":0.65,"c":110},{"x":26,"y":0.65,"y2":0.8,"c":60},{"x":26,"y":0.8,"y2":1.34,"c":15},
{"x":30,"y":0.5,"y2":0.525,"c":200},{"x":30,"y":0.525,"y2":0.575,"c":130},{"x":30,"y":0.575,"y2":0.7,"c":70},{"x":30,"y":0.7,"y2":1.28,"c":12},
{"x":34,"y":0.44,"y2":0.465,"c":300},{"x":34,"y":0.465,"y2":0.5,"c":190},{"x":34,"y":0.5,"y2":0.6,"c":100},{"x":34,"y":0.6,"y2":0.75,"c":45},{"x":34,"y":0.75,"y2":1.2,"c":10},
{"x":38,"y":0.4,"y2":0.425,"c":420},{"x":38,"y":0.425,"y2":0.45,"c":240},{"x":38,"y":0.45,"y2":0.55,"c":120},{"x":38,"y":0.55,"y2":0.7,"c":50},{"x":38,"y":0.7,"y2":1.15,"c":8},
{"x":42,"y":0.36,"y2":0.385,"c":370},{"x":42,"y":0.385,"y2":0.41,"c":250},{"x":42,"y":0.41,"y2":0.5,"c":130},{"x":42,"y":0.5,"y2":0.65,"c":55},{"x":42,"y":0.65,"y2":1.12,"c":8},
{"x":46,"y":0.335,"y2":0.36,"c":400},{"x":46,"y":0.36,"y2":0.385,"c":220},{"x":46,"y":0.385,"y2":0.47,"c":120},{"x":46,"y":0.47,"y2":0.6,"c":50},{"x":46,"y":0.6,"y2":1.1,"c":6},
{"x":50,"y":0.31,"y2":0.335,"c":390},{"x":50,"y":0.335,"y2":0.36,"c":230},{"x":50,"y":0.36,"y2":0.44,"c":120},{"x":50,"y":0.44,"y2":0.58,"c":50},{"x":50,"y":0.58,"y2":1.08,"c":6},
{"x":54,"y":0.29,"y2":0.315,"c":440},{"x":54,"y":0.315,"y2":0.34,"c":240},{"x":54,"y":0.34,"y2":0.42,"c":120},{"x":54,"y":0.42,"y2":0.55,"c":50},{"x":54,"y":0.55,"y2":1.03,"c":6},
{"x":58,"y":0.27,"y2":0.295,"c":430},{"x":58,"y":0.295,"y2":0.32,"c":240},{"x":58,"y":0.32,"y2":0.4,"c":120},{"x":58,"y":0.4,"y2":0.53,"c":50},{"x":58,"y":0.53,"y2":1,"c":6},
{"x":62,"y":0.255,"y2":0.28,"c":480},{"x":62,"y":0.28,"y2":0.305,"c":250},{"x":62,"y":0.305,"y2":0.38,"c":125},{"x":62,"y":0.38,"y2":0.5,"c":50},{"x":62,"y":0.5,"y2":0.95,"c":6},
{"x":66,"y":0.24,"y2":0.265,"c":470},{"x":66,"y":0.265,"y2":0.29,"c":250},{"x":66,"y":0.29,"y2":0.37,"c":125},{"x":66,"y":0.37,"y2":0.5,"c":50},{"x":66,"y":0.5,"y2":0.93,"c":6},
{"x":70,"y":0.23,"y2":0.255,"c":520},{"x":70,"y":0.255,"y2":0.28,"c":260},{"x":70,"y":0.28,"y2":0.35,"c":130},{"x":70,"y":0.35,"y2":0.48,"c":50},{"x":70,"y":0.48,"y2":0.92,"c":6},
{"x":74,"y":0.22,"y2":0.245,"c":570},{"x":74,"y":0.245,"y2":0.27,"c":260},{"x":74,"y":0.27,"y2":0.34,"c":130},{"x":74,"y":0.34,"y2":0.47,"c":50},{"x":74,"y":0.47,"y2":0.86,"c":6},
{"x":78,"y":0.205,"y2":0.23,"c":610},{"x":78,"y":0.23,"y2":0.255,"c":270},{"x":78,"y":0.255,"y2":0.33,"c":130},{"x":78,"y":0.33,"y2":0.46,"c":50},{"x":78,"y":0.46,"y2":0.84,"c":6},
{"x":82,"y":0.2,"y2":0.225,"c":720},{"x":82,"y":0.225,"y2":0.25,"c":280},{"x":82,"y":0.25,"y2":0.32,"c":130},{"x":82,"y":0.32,"y2":0.45,"c":50},{"x":82,"y":0.45,"y2":0.8,"c":6},
{"x":86,"y":0.19,"y2":0.215,"c":540},{"x":86,"y":0.215,"y2":0.24,"c":270},{"x":86,"y":0.24,"y2":0.31,"c":130},{"x":86,"y":0.31,"y2":0.44,"c":50},{"x":86,"y":0.44,"y2":0.78,"c":6},
{"x":90,"y":0.18,"y2":0.205,"c":500},{"x":90,"y":0.205,"y2":0.23,"c":260},{"x":90,"y":0.23,"y2":0.3,"c":130},{"x":90,"y":0.3,"y2":0.43,"c":50},{"x":90,"y":0.43,"y2":0.76,"c":6},
{"x":94,"y":0.18,"y2":0.205,"c":560},{"x":94,"y":0.205,"y2":0.23,"c":260},{"x":94,"y":0.23,"y2":0.3,"c":130},{"x":94,"y":0.3,"y2":0.42,"c":50},{"x":94,"y":0.42,"y2":0.75,"c":6},
{"x":98,"y":0.17,"y2":0.195,"c":660},{"x":98,"y":0.195,"y2":0.22,"c":260},{"x":98,"y":0.22,"y2":0.29,"c":130},{"x":98,"y":0.29,"y2":0.41,"c":50},{"x":98,"y":0.41,"y2":0.72,"c":6},
{"x":102,"y":0.17,"y2":0.195,"c":460},{"x":102,"y":0.195,"y2":0.22,"c":250},{"x":102,"y":0.22,"y2":0.29,"c":125},{"x":102,"y":0.29,"y2":0.4,"c":50},{"x":102,"y":0.4,"y2":0.7,"c":6},
{"x":106,"y":0.165,"y2":0.19,"c":430},{"x":106,"y":0.19,"y2":0.215,"c":240},{"x":106,"y":0.215,"y2":0.28,"c":120},{"x":106,"y":0.28,"y2":0.39,"c":50},{"x":106,"y":0.39,"y2":0.68,"c":6},
{"x":110,"y":0.165,"y2":0.19,"c":440},{"x":110,"y":0.19,"y2":0.215,"c":240},{"x":110,"y":0.215,"y2":0.28,"c":120},{"x":110,"y":0.28,"y2":0.39,"c":50},{"x":110,"y":0.39,"y2":0.66,"c":6},
{"x":114,"y":0.16,"y2":0.185,"c":400},{"x":114,"y":0.185,"y2":0.21,"c":230},{"x":114,"y":0.21,"y2":0.27,"c":115},{"x":114,"y":0.27,"y2":0.38,"c":45},{"x":114,"y":0.38,"y2":0.62,"c":6},
{"x":118,"y":0.16,"y2":0.185,"c":400},{"x":118,"y":0.185,"y2":0.21,"c":230},{"x":118,"y":0.21,"y2":0.27,"c":115},{"x":118,"y":0.27,"y2":0.38,"c":45},{"x":118,"y":0.38,"y2":0.6,"c":6},
{"x":122,"y":0.16,"y2":0.185,"c":380},{"x":122,"y":0.185,"y2":0.21,"c":220},{"x":122,"y":0.21,"y2":0.27,"c":110},{"x":122,"y":0.27,"y2":0.38,"c":45},{"x":122,"y":0.38,"y2":0.58,"c":6},
{"x":126,"y":0.16,"y2":0.185,"c":340},{"x":126,"y":0.185,"y2":0.21,"c":210},{"x":126,"y":0.21,"y2":0.27,"c":105},{"x":126,"y":0.27,"y2":0.37,"c":40},{"x":126,"y":0.37,"y2":0.56,"c":6},
{"x":130,"y":0.125,"y2":0.165,"c":190},{"x":130,"y":0.165,"y2":0.2,"c":110},{"x":130,"y":0.2,"y2":0.27,"c":50},{"x":130,"y":0.27,"y2":0.37,"c":22},{"x":130,"y":0.37,"y2":0.55,"c":5},
{"x":134,"y":0.125,"y2":0.165,"c":180},{"x":134,"y":0.165,"y2":0.2,"c":105},{"x":134,"y":0.2,"y2":0.27,"c":50},{"x":134,"y":0.27,"y2":0.37,"c":22},{"x":134,"y":0.37,"y2":0.53,"c":5},
{"x":138,"y":0.125,"y2":0.165,"c":175},{"x":138,"y":0.165,"y2":0.2,"c":100},{"x":138,"y":0.2,"y2":0.27,"c":48},{"x":138,"y":0.27,"y2":0.37,"c":20},{"x":138,"y":0.37,"y2":0.53,"c":5},
{"x":142,"y":0.125,"y2":0.165,"c":170},{"x":142,"y":0.165,"y2":0.2,"c":100},{"x":142,"y":0.2,"y2":0.27,"c":46},{"x":142,"y":0.27,"y2":0.37,"c":20},{"x":142,"y":0.37,"y2":0.52,"c":5},
{"x":146,"y":0.125,"y2":0.165,"c":165},{"x":146,"y":0.165,"y2":0.2,"c":95},{"x":146,"y":0.2,"y2":0.27,"c":45},{"x":146,"y":0.27,"y2":0.37,"c":18},{"x":146,"y":0.37,"y2":0.52,"c":5},
{"x":150,"y":0.125,"y2":0.165,"c":160},{"x":150,"y":0.165,"y2":0.2,"c":90},{"x":150,"y":0.2,"y2":0.27,"c":42},{"x":150,"y":0.27,"y2":0.37,"c":18},{"x":150,"y":0.37,"y2":0.5,"c":5},
{"x":154,"y":0.125,"y2":0.165,"c":150},{"x":154,"y":0.165,"y2":0.2,"c":85},{"x":154,"y":0.2,"y2":0.27,"c":40},{"x":154,"y":0.27,"y2":0.37,"c":16},{"x":154,"y":0.37,"y2":0.48,"c":5},
{"x":158,"y":0.125,"y2":0.165,"c":150},{"x":158,"y":0.165,"y2":0.2,"c":80},{"x":158,"y":0.2,"y2":0.27,"c":38},{"x":158,"y":0.27,"y2":0.37,"c":15},{"x":158,"y":0.37,"y2":0.47,"c":5},
{"x":162,"y":0.125,"y2":0.165,"c":140},{"x":162,"y":0.165,"y2":0.2,"c":78},{"x":162,"y":0.2,"y2":0.27,"c":36},{"x":162,"y":0.27,"y2":0.37,"c":14},{"x":162,"y":0.37,"y2":0.46,"c":5},
{"x":166,"y":0.125,"y2":0.165,"c":130},{"x":166,"y":0.165,"y2":0.2,"c":75},{"x":166,"y":0.2,"y2":0.27,"c":35},{"x":166,"y":0.27,"y2":0.37,"c":13},{"x":166,"y":0.37,"y2":0.45,"c":5},
{"x":170,"y":0.125,"y2":0.165,"c":120},{"x":170,"y":0.165,"y2":0.2,"c":70},{"x":170,"y":0.2,"y2":0.27,"c":32},{"x":170,"y":0.27,"y2":0.37,"c":12},{"x":170,"y":0.37,"y2":0.42,"c":5},
{"x":174,"y":0.125,"y2":0.165,"c":110},{"x":174,"y":0.165,"y2":0.2,"c":60},{"x":174,"y":0.2,"y2":0.27,"c":30},{"x":174,"y":0.27,"y2":0.38,"c":10},
{"x":178,"y":0.125,"y2":0.165,"c":90},{"x":178,"y":0.165,"y2":0.2,"c":50},{"x":178,"y":0.2,"y2":0.27,"c":25},{"x":178,"y":0.27,"y2":0.3,"c":10},{"x":178,"y":0.33,"y2":0.355,"c":6},
{"x":22,"y":2.44,"y2":2.465,"c":5},{"x":18,"y":2.44,"y2":2.465,"c":5},{"x":46,"y":2.41,"y2":2.435,"c":5},{"x":26,"y":2.25,"y2":2.275,"c":5},{"x":38,"y":2.23,"y2":2.255,"c":5},{"x":18,"y":2.1,"y2":2.125,"c":5},{"x":22,"y":2.07,"y2":2.095,"c":5},{"x":38,"y":2.1,"y2":2.125,"c":5},{"x":62,"y":2.02,"y2":2.045,"c":5},{"x":110,"y":2.08,"y2":2.105,"c":5},{"x":18,"y":1.99,"y2":2.015,"c":5},{"x":22,"y":1.99,"y2":2.015,"c":5},{"x":18,"y":1.92,"y2":1.945,"c":5},{"x":30,"y":1.88,"y2":1.905,"c":5},{"x":26,"y":1.85,"y2":1.875,"c":5},{"x":18,"y":1.84,"y2":1.865,"c":5},{"x":22,"y":1.84,"y2":1.865,"c":5},{"x":38,"y":1.85,"y2":1.875,"c":5},{"x":18,"y":1.78,"y2":1.805,"c":5},{"x":30,"y":1.73,"y2":1.755,"c":5},{"x":86,"y":1.71,"y2":1.735,"c":5},{"x":38,"y":1.68,"y2":1.705,"c":5},{"x":26,"y":1.65,"y2":1.675,"c":5},{"x":30,"y":1.61,"y2":1.635,"c":5},{"x":26,"y":1.61,"y2":1.635,"c":5},{"x":34,"y":1.61,"y2":1.635,"c":5},{"x":46,"y":1.6,"y2":1.625,"c":5},{"x":62,"y":1.6,"y2":1.625,"c":5},{"x":26,"y":1.56,"y2":1.585,"c":5},{"x":110,"y":1.55,"y2":1.575,"c":5},{"x":86,"y":1.5,"y2":1.525,"c":5},{"x":34,"y":1.53,"y2":1.555,"c":5},{"x":62,"y":1.45,"y2":1.475,"c":5},{"x":38,"y":1.36,"y2":1.385,"c":5},{"x":62,"y":1.36,"y2":1.385,"c":5},{"x":74,"y":1.38,"y2":1.405,"c":5},{"x":70,"y":1.33,"y2":1.355,"c":5},{"x":150,"y":1.3,"y2":1.325,"c":5},{"x":54,"y":1.25,"y2":1.275,"c":5},{"x":50,"y":1.23,"y2":1.255,"c":5},{"x":58,"y":1.23,"y2":1.255,"c":5},{"x":94,"y":1.23,"y2":1.255,"c":5},{"x":98,"y":1.2,"y2":1.225,"c":5},{"x":110,"y":1.18,"y2":1.205,"c":5},{"x":78,"y":1.12,"y2":1.145,"c":5},{"x":82,"y":1.1,"y2":1.125,"c":5},{"x":122,"y":1.13,"y2":1.155,"c":5},{"x":126,"y":1.03,"y2":1.055,"c":5},{"x":142,"y":1.03,"y2":1.055,"c":5},{"x":66,"y":1.05,"y2":1.075,"c":5},{"x":62,"y":1,"y2":1.025,"c":5},{"x":82,"y":0.98,"y2":1.005,"c":5},{"x":106,"y":0.98,"y2":1.005,"c":5},{"x":70,"y":0.92,"y2":0.945,"c":5},{"x":74,"y":0.9,"y2":0.925,"c":5},{"x":78,"y":0.91,"y2":0.935,"c":5},{"x":90,"y":0.92,"y2":0.945,"c":5},{"x":98,"y":0.9,"y2":0.925,"c":5},{"x":110,"y":0.88,"y2":0.905,"c":5},{"x":118,"y":0.88,"y2":0.905,"c":5},{"x":86,"y":0.88,"y2":0.905,"c":5},{"x":142,"y":0.85,"y2":0.875,"c":5},{"x":150,"y":0.8,"y2":0.825,"c":5},{"x":154,"y":0.8,"y2":0.825,"c":5},{"x":82,"y":0.83,"y2":0.855,"c":5},{"x":94,"y":0.78,"y2":0.805,"c":5},{"x":102,"y":0.83,"y2":0.855,"c":5},{"x":106,"y":0.75,"y2":0.775,"c":5},{"x":110,"y":0.75,"y2":0.775,"c":5},{"x":114,"y":0.73,"y2":0.755,"c":5},{"x":150,"y":0.74,"y2":0.765,"c":5},{"x":158,"y":0.73,"y2":0.755,"c":5},{"x":134,"y":0.68,"y2":0.705,"c":5},{"x":122,"y":0.69,"y2":0.715,"c":5},{"x":130,"y":0.63,"y2":0.655,"c":5},{"x":142,"y":0.6,"y2":0.625,"c":5},{"x":150,"y":0.63,"y2":0.655,"c":5},{"x":154,"y":0.6,"y2":0.625,"c":5},{"x":168,"y":0.57,"y2":0.595,"c":5},{"x":166,"y":0.52,"y2":0.545,"c":5},{"x":158,"y":0.52,"y2":0.545,"c":5},
{"x":14,"y":0.58,"y2":0.605,"c":5},{"x":10,"y":0.56,"y2":0.585,"c":5},{"x":22,"y":0.53,"y2":0.555,"c":5},{"x":26,"y":0.51,"y2":0.535,"c":5},{"x":26,"y":0.45,"y2":0.475,"c":5},{"x":14,"y":0.45,"y2":0.51,"c":5},{"x":18,"y":0.45,"y2":0.51,"c":5},{"x":14,"y":0.4,"y2":0.425,"c":5},{"x":18,"y":0.4,"y2":0.425,"c":5},{"x":30,"y":0.38,"y2":0.405,"c":5},{"x":34,"y":0.38,"y2":0.405,"c":5},{"x":14,"y":0.33,"y2":0.355,"c":5},{"x":18,"y":0.33,"y2":0.355,"c":5},{"x":34,"y":0.31,"y2":0.335,"c":5},{"x":38,"y":0.31,"y2":0.335,"c":5},{"x":18,"y":0.27,"y2":0.295,"c":5},{"x":22,"y":0.27,"y2":0.295,"c":5},{"x":26,"y":0.27,"y2":0.295,"c":5},{"x":30,"y":0.27,"y2":0.295,"c":5},{"x":34,"y":0.27,"y2":0.295,"c":5},{"x":46,"y":0.27,"y2":0.295,"c":5},{"x":10,"y":0.23,"y2":0.255,"c":5},{"x":18,"y":0.23,"y2":0.255,"c":5},{"x":26,"y":0.23,"y2":0.255,"c":5},{"x":30,"y":0.23,"y2":0.255,"c":5},{"x":38,"y":0.23,"y2":0.255,"c":5},{"x":46,"y":0.23,"y2":0.255,"c":5},{"x":50,"y":0.22,"y2":0.245,"c":5},{"x":54,"y":0.22,"y2":0.245,"c":5},{"x":58,"y":0.22,"y2":0.245,"c":5},{"x":18,"y":0.175,"y2":0.2,"c":5},{"x":22,"y":0.175,"y2":0.2,"c":5},{"x":26,"y":0.175,"y2":0.2,"c":5},{"x":30,"y":0.175,"y2":0.2,"c":5},{"x":34,"y":0.175,"y2":0.2,"c":5},{"x":38,"y":0.175,"y2":0.2,"c":5},{"x":46,"y":0.175,"y2":0.2,"c":5},{"x":50,"y":0.175,"y2":0.2,"c":5},{"x":54,"y":0.175,"y2":0.2,"c":5},{"x":58,"y":0.175,"y2":0.2,"c":5},{"x":62,"y":0.175,"y2":0.2,"c":5},{"x":18,"y":0.13,"y2":0.155,"c":5},{"x":22,"y":0.13,"y2":0.155,"c":5},{"x":26,"y":0.13,"y2":0.155,"c":5},{"x":34,"y":0.13,"y2":0.155,"c":5},{"x":38,"y":0.13,"y2":0.155,"c":5},{"x":46,"y":0.13,"y2":0.155,"c":5},{"x":54,"y":0.13,"y2":0.155,"c":5},{"x":58,"y":0.13,"y2":0.155,"c":5},{"x":62,"y":0.13,"y2":0.155,"c":5},{"x":74,"y":0.14,"y2":0.18,"c":5},{"x":82,"y":0.14,"y2":0.18,"c":5}]},
"mark":{"type":"rect","width":6.3,"strokeWidth":0.5},
"encoding":{"x":{"field":"x","type":"quantitative","scale":{"domain":[0,180],"nice":false,"zero":false},"axis":{"style":"root","orient":"bottom","offset":-49,"domain":true,"domainColor":"#111","domainWidth":2,"values":[0,50,100,150],"tickSize":-12,"labelPadding":17,"labelFontSize":22,"title":"θᵧᵧ (°)","titleFontSize":21,"titleAnchor":"end","titlePadding":1,"titleFontWeight":"bold"}},"y":{"field":"y","type":"quantitative","scale":{"domain":[0,2.5],"nice":false,"zero":false,"range":[279,24]},"axis":{"style":"root","orient":"left","domain":true,"domainColor":"#111","domainWidth":2,"values":[0,0.5,1,1.5,2,2.5],"format":"~g","tickSize":-12,"labelPadding":14,"labelFontSize":22,"title":"E (GeV)","titleFontSize":22,"titleAnchor":"end","titleX":-59}},"y2":{"field":"y2"},"color":{"field":"c","type":"quantitative","scale":{"interpolate":"rgb","domain":[0,30,60,100,200,280,340,390,500,600,700,750],"range":["#000000","#050010","#0e0330","#220a70","#4a10d8","#5a0e9a","#7c0a50","#8c0a08","#b03a00","#c87000","#dcb000","#e8e800"]},"legend":null},"stroke":{"field":"c","type":"quantitative","scale":{"interpolate":"rgb","domain":[0,30,60,100,200,280,340,390,500,600,700,750],"range":["#000000","#050010","#0e0330","#220a70","#4a10d8","#5a0e9a","#7c0a50","#8c0a08","#b03a00","#c87000","#dcb000","#e8e800"]},"legend":null}}},
{"data":{"values":[{"x":170.3,"y":2.287,"t":"SM neutrino π0"}]},"mark":{"type":"text","font":"Roboto","fontWeight":300,"fontSize":21.3,"align":"right","baseline":"middle","color":"#222"},
"encoding":{"x":{"field":"x","type":"quantitative","title":null,"axis":{"orient":"top","offset":-24,"domain":true,"domainColor":"#111","domainWidth":2,"values":[0,50,100,150],"labels":false,"tickSize":-12,"tickColor":"#444"}},"y":{"field":"y","type":"quantitative","title":null,"axis":{"orient":"right","domain":true,"domainColor":"#111","domainWidth":2,"values":[0,0.5,1,1.5,2,2.5],"labels":false,"tickSize":-12,"tickColor":"#444"}},"text":{"field":"t"}}},
{"data":{"values":[{"x":176.2,"y":2.608,"t":"SBND Simulation"}]},"mark":{"type":"text","font":"Roboto","fontWeight":300,"fontSize":21.3,"align":"right","baseline":"middle","color":"#bdbdbd"},
"encoding":{"x":{"field":"x","type":"quantitative","title":null,"axis":{"orient":"bottom","offset":-49,"values":[10,20,30,40,60,70,80,90,110,120,130,140,160,170],"labels":false,"tickSize":-6,"tickColor":"#666"}},"y":{"field":"y","type":"quantitative","title":null,"axis":{"orient":"left","values":[0.1,0.2,0.3,0.4,0.6,0.7,0.8,0.9,1.1,1.2,1.3,1.4,1.6,1.7,1.8,1.9,2.1,2.2,2.3,2.4],"labels":false,"tickSize":-6,"tickColor":"#666"}},"text":{"field":"t"}}},
{"data":{"values":[{"x":102.5,"y":1.424,"t":"Work In Progress"}]},"mark":{"type":"text","font":"Roboto","fontWeight":300,"fontSize":32,"align":"center","baseline":"middle","color":"#000","opacity":0.06},
"encoding":{"x":{"field":"x","type":"quantitative","title":null,"axis":{"orient":"top","offset":-24,"values":[10,20,30,40,60,70,80,90,110,120,130,140,160,170],"labels":false,"tickSize":-6,"tickColor":"#666"}},"y":{"field":"y","type":"quantitative","title":null,"axis":{"orient":"right","values":[0.1,0.2,0.3,0.4,0.6,0.7,0.8,0.9,1.1,1.2,1.3,1.4,1.6,1.7,1.8,1.9,2.1,2.2,2.3,2.4],"labels":false,"tickSize":-6,"tickColor":"#666"}},"text":{"field":"t"}}}
]},
{"width":1,"height":328,"data":{"values":[{}]},"mark":{"type":"point","opacity":0},"encoding":{}},
{"width":23,"height":328,"data":{"values":[{"y":0,"y2":20,"c":10},{"y":20,"y2":40,"c":30},{"y":40,"y2":60,"c":50},{"y":60,"y2":80,"c":70},{"y":80,"y2":100,"c":90},{"y":100,"y2":120,"c":110},{"y":120,"y2":140,"c":130},{"y":140,"y2":160,"c":150},{"y":160,"y2":180,"c":170},{"y":180,"y2":200,"c":190},{"y":200,"y2":220,"c":210},{"y":220,"y2":240,"c":230},{"y":240,"y2":260,"c":250},{"y":260,"y2":280,"c":270},{"y":280,"y2":300,"c":290},{"y":300,"y2":320,"c":310},{"y":320,"y2":340,"c":330},{"y":340,"y2":360,"c":350},{"y":360,"y2":380,"c":370},{"y":380,"y2":400,"c":390},{"y":400,"y2":420,"c":410},{"y":420,"y2":440,"c":430},{"y":440,"y2":460,"c":450},{"y":460,"y2":480,"c":470},{"y":480,"y2":500,"c":490},{"y":500,"y2":520,"c":510},{"y":520,"y2":540,"c":530},{"y":540,"y2":560,"c":550},{"y":560,"y2":580,"c":570},{"y":580,"y2":600,"c":590},{"y":600,"y2":620,"c":610},{"y":620,"y2":640,"c":630},{"y":640,"y2":660,"c":650},{"y":660,"y2":680,"c":670},{"y":680,"y2":700,"c":690},{"y":700,"y2":720,"c":710},{"y":720,"y2":750,"c":735}]},
"mark":{"type":"rect","strokeWidth":0.6},"encoding":{"y":{"field":"y","type":"quantitative","scale":{"domain":[0,750],"nice":false,"zero":false,"range":[279,24]},"axis":{"style":"root","orient":"right","domain":true,"domainColor":"#333","values":[0,100,200,300,400,500,600,700],"format":"d","tickSize":-10,"tickColor":"#333","labelPadding":12,"labelFontSize":22,"title":"π⁰s","titleFontSize":22,"titleAngle":270,"titleAlign":"right","titleBaseline":"bottom","titleAnchor":"end","titleX":82}},"y2":{"field":"y2"},"color":{"field":"c","type":"quantitative","scale":{"interpolate":"rgb","domain":[0,30,60,100,200,280,340,390,500,600,700,750],"range":["#000000","#050010","#0e0330","#220a70","#4a10d8","#5a0e9a","#7c0a50","#8c0a08","#b03a00","#c87000","#dcb000","#e8e800"]},"legend":null},"stroke":{"field":"c","type":"quantitative","scale":{"interpolate":"rgb","domain":[0,30,60,100,200,280,340,390,500,600,700,750],"range":["#000000","#050010","#0e0330","#220a70","#4a10d8","#5a0e9a","#7c0a50","#8c0a08","#b03a00","#c87000","#dcb000","#e8e800"]},"legend":null}}},
{"width":84,"height":328,"data":{"values":[{}]},"mark":{"type":"point","opacity":0},"encoding":{}}
]}
]}
